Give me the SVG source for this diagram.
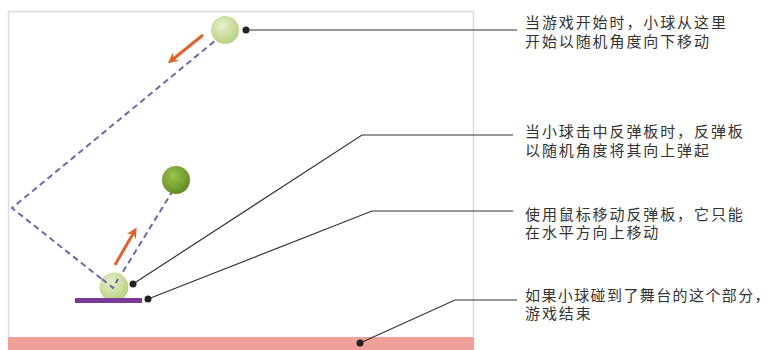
<svg xmlns="http://www.w3.org/2000/svg" width="775" height="350" viewBox="0 0 775 350">
  <style>
    .label { font-family: "Liberation Sans", "Noto Sans CJK SC", sans-serif; font-size: 15px; fill: #333; letter-spacing: 1.9px; }
    .leader { fill: none; stroke: #333; stroke-width: 1.2; }
    .dot { fill: #222; }
    .path { fill: none; stroke: #6a6aa8; stroke-width: 2; stroke-dasharray: 6 4; }
    .move { fill: none; stroke: #e0622e; stroke-width: 3; }
  </style>
  <defs>
    <radialGradient id="paleBall" cx="0.4" cy="0.35" r="0.7">
      <stop offset="0" stop-color="#e6f0c8"/>
      <stop offset="1" stop-color="#b5cf7e"/>
    </radialGradient>
    <radialGradient id="darkBall" cx="0.4" cy="0.35" r="0.7">
      <stop offset="0" stop-color="#9cc24a"/>
      <stop offset="1" stop-color="#5e8a22"/>
    </radialGradient>
    <marker id="head" viewBox="0 0 10 10" refX="5" refY="5" markerWidth="3.5" markerHeight="3.5" orient="auto">
      <path d="M0,0 L10,5 L0,10 L3,5 Z" fill="#e0622e"/>
    </marker>
  </defs>

  <!-- stage -->
  <g id="stage">
    <rect x="0" y="0" width="775" height="350" fill="#fff"/>
    <rect x="8.5" y="11.5" width="465" height="345" fill="none" stroke="#dcdcdc" stroke-width="1.5"/>
  </g>

  <!-- game-over zone -->
  <g id="floor">
    <rect x="8" y="337" width="466" height="13" fill="#f0a09a"/>
  </g>

  <!-- ball trajectory, motion arrows and leader lines -->
  <g id="connectors">
    <polyline class="path" points="222,35 12,208 113,288 172,192"/>
    <line class="move" x1="203" y1="35" x2="172" y2="60" marker-end="url(#head)"/>
    <line class="move" x1="115" y1="265" x2="134" y2="232" marker-end="url(#head)"/>

    <polyline class="leader" points="246,30 517,30"/>
    <polyline class="leader" points="133,284 362,135 513,135"/>
    <polyline class="leader" points="148,299 372,211 513,211"/>
    <polyline class="leader" points="360,343 455,300 517,300"/>
  </g>

  <g id="ball-start">
    <circle cx="225" cy="30" r="14" fill="url(#paleBall)"/>
    <circle class="dot" cx="246" cy="30" r="3.5"/>
  </g>

  <g id="ball-bounce">
    <circle cx="176" cy="180" r="14" fill="url(#darkBall)"/>
  </g>

  <g id="ball-paddle">
    <circle cx="114" cy="287" r="14.5" fill="url(#paleBall)"/>
    <polyline class="path" points="102,279 113,288 118,279" stroke-dasharray="5 3"/>
    <circle class="dot" cx="133" cy="284" r="3.5"/>
  </g>

  <g id="paddle">
    <rect x="75" y="298" width="67" height="5" fill="#7a3a98"/>
    <circle class="dot" cx="148" cy="299" r="3.5"/>
  </g>

  <g id="floor-dot">
    <circle class="dot" cx="360" cy="343" r="3.5"/>
  </g>

  <g id="note-start">
    <text class="label" x="525" y="28">当游戏开始时，小球从这里<tspan x="525" dy="18.5">开始以随机角度向下移动</tspan></text>
  </g>
  <g id="note-bounce">
    <text class="label" x="525" y="137">当小球击中反弹板时，反弹板<tspan x="525" dy="18.5">以随机角度将其向上弹起</tspan></text>
  </g>
  <g id="note-paddle">
    <text class="label" x="525" y="220">使用鼠标移动反弹板，它只能<tspan x="525" dy="18">在水平方向上移动</tspan></text>
  </g>
  <g id="note-floor">
    <text class="label" x="525" y="301" style="letter-spacing:1.4px">如果小球碰到了舞台的这个部分，<tspan x="525" dy="18" style="letter-spacing:1.9px">游戏结束</tspan></text>
  </g>
</svg>
